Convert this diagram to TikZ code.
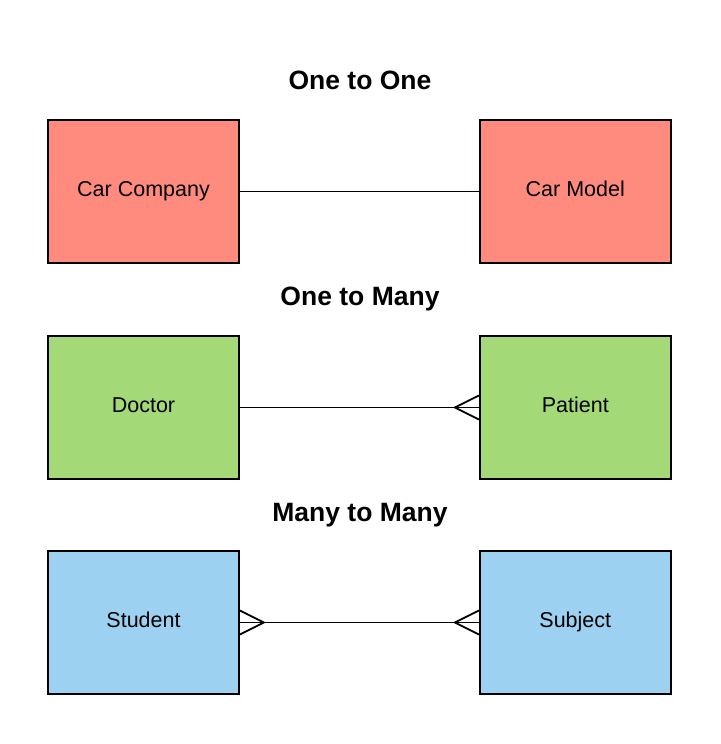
\documentclass[tikz,border=0pt]{standalone}
\usepackage{fontspec}
\setmainfont{Liberation Sans}
\usepackage{tikz}
\usetikzlibrary{calc,positioning}

\definecolor{onered}{HTML}{FF8B7F}
\definecolor{manygreen}{HTML}{A3D977}
\definecolor{bothblue}{HTML}{9DD1F1}

\begin{document}
\begin{tikzpicture}[x=1pt,y=-1pt,line width=1.8pt,node distance=239pt]
  \tikzset{entity/.style={draw, rectangle, minimum width=191pt, minimum height=143pt, text height=10pt, text depth=0.2pt, font=\fontsize{21.5}{26}\selectfont},
           heading/.style={text height=19pt, text depth=0pt, font=\bfseries\fontsize{26.5}{32}\selectfont}}
  \useasboundingbox (0,0) rectangle (720,744);

  % one to one
  \node[entity, fill=onered] (comp) at (143.5,191.5) {Car Company};
  \node[entity, fill=onered, right=of comp] (model) {Car Model};
  \node[heading] (t1) at (360,80) {One to One};

  % one to many
  \node[entity, fill=manygreen] (doc) at (143.5,407.5) {Doctor};
  \node[entity, fill=manygreen, right=of doc] (pat) {Patient};
  \node[heading] (t2) at (360,296) {One to Many};

  % many to many
  \node[entity, fill=bothblue] (stud) at (143.5,622.5) {Student};
  \node[entity, fill=bothblue, right=of stud] (subj) {Subject};
  \node[heading] (t3) at (360,512) {Many to Many};

  \draw (comp) -- (model);
  \draw (doc) -- (pat);
  \draw (stud) -- (subj);

  % crow's feet
  \draw ($(pat.west)+(0,-12)$) -- ($(pat.west)+(-24,0)$) -- ($(pat.west)+(0,12)$);
  \draw ($(subj.west)+(0,-12)$) -- ($(subj.west)+(-24,0)$) -- ($(subj.west)+(0,12)$);
  \draw ($(stud.east)+(0,-12)$) -- ($(stud.east)+(24,0)$) -- ($(stud.east)+(0,12)$);
\end{tikzpicture}
\end{document}
